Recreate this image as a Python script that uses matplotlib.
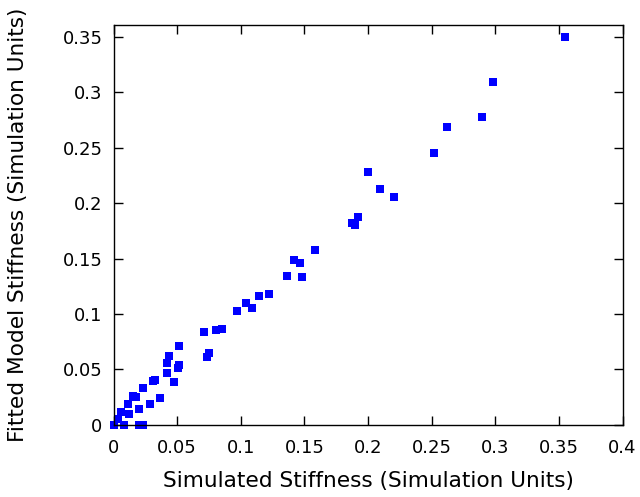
import matplotlib
matplotlib.use("Agg")
import matplotlib.pyplot as plt

simulated = [0.0, 0.0084, 0.0202, 0.0233, 0.0037, 0.0058, 0.0119, 0.0116, 0.0155, 0.0176,
             0.0202, 0.0231, 0.0288, 0.0307, 0.0325, 0.0362, 0.0420, 0.0475, 0.0420, 0.0435,
             0.0508, 0.0516, 0.0514, 0.0710, 0.0734, 0.0750, 0.0802, 0.0852, 0.0967, 0.1040,
             0.1085, 0.1145, 0.1223, 0.1360, 0.1420, 0.1465, 0.1484, 0.1583, 0.1876, 0.1899,
             0.1923, 0.1999, 0.2093, 0.2203, 0.2518, 0.2620, 0.2895, 0.2979, 0.3549]
fitted = [0.0, 0.0, 0.0, 0.0, 0.0051, 0.0115, 0.0094, 0.0184, 0.0256, 0.0247,
          0.0142, 0.0329, 0.0190, 0.0397, 0.0404, 0.0238, 0.0469, 0.0383, 0.0557, 0.0620,
          0.0515, 0.0539, 0.0710, 0.0837, 0.0608, 0.0645, 0.0858, 0.0867, 0.1022, 0.1101,
          0.1054, 0.1159, 0.1177, 0.1338, 0.1484, 0.1460, 0.1333, 0.1577, 0.1818, 0.1806,
          0.1872, 0.2279, 0.2131, 0.2056, 0.2456, 0.2688, 0.2781, 0.3094, 0.3500]

xticks = [0, 0.05, 0.1, 0.15, 0.2, 0.25, 0.3, 0.35, 0.4]
xticklabels = ["0", "0.05", "0.1", "0.15", "0.2", "0.25", "0.3", "0.35", "0.4"]
yticks = [0, 0.05, 0.1, 0.15, 0.2, 0.25, 0.3, 0.35]
yticklabels = ["0", "0.05", "0.1", "0.15", "0.2", "0.25", "0.3", "0.35"]

plt.rcParams['font.family'] = ['DejaVu Sans']
fig = plt.figure(figsize=(6.4, 4.97), dpi=100)
ax = fig.add_axes([113.6/640, 1 - 424.7/497, (622.6-113.6)/640, (424.7-25.3)/497])
ax.plot(simulated, fitted, linestyle='none', marker='s', markersize=6.0,
        color='#0000ff', markeredgewidth=0, clip_on=False)
ax.set_xlim(0, 0.4)
ax.set_ylim(0, 0.3605)
ax.set_xticks(xticks)
ax.set_xticklabels(xticklabels)
ax.set_yticks(yticks)
ax.set_yticklabels(yticklabels)
ax.tick_params(direction='in', length=6.5, width=1.0, top=True, right=True,
               labelsize=13, color='black')
ax.tick_params(axis='x', pad=10)
ax.tick_params(axis='y', pad=8)
for s in ax.spines.values():
    s.set_linewidth(1.0)
ax.set_xlabel("Simulated Stiffness (Simulation Units)", fontsize=15.6, va='center')
ax.set_ylabel("Fitted Model Stiffness (Simulation Units)", fontsize=15.6, va='center')
ax.xaxis.set_label_coords(0.5, (424.7 - 481) / 399.4)
ax.yaxis.set_label_coords((18 - 113.6) / 509.0, 0.5)
fig.savefig("out.png", dpi=100)
